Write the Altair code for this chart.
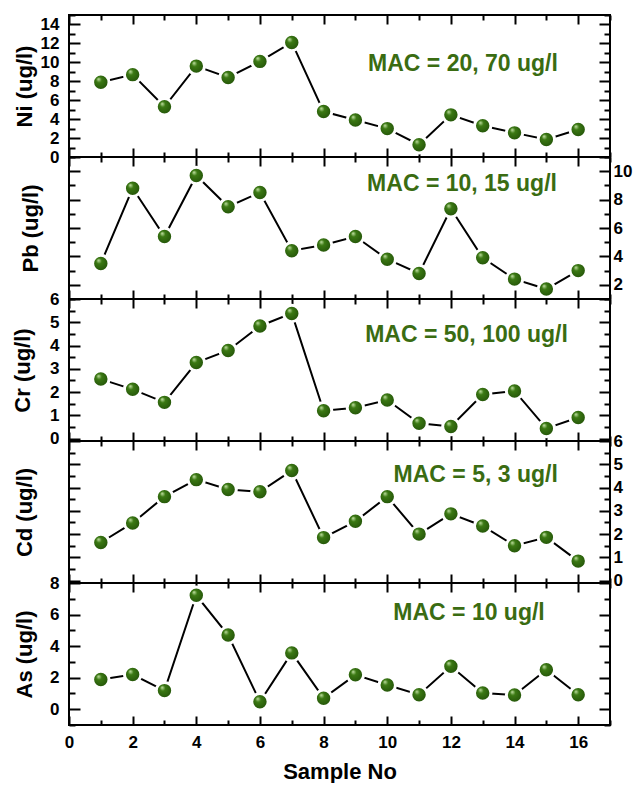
import altair as alt
import pandas as pd

# ---------------- data ----------------
samples = list(range(1, 17))
ni = [7.9, 8.7, 5.3, 9.6, 8.4, 10.1, 12.1, 4.8, 3.9, 3.0, 1.3, 4.45, 3.3, 2.55, 1.85, 2.9]
pb = [3.5, 8.8, 5.4, 9.7, 7.5, 8.5, 4.4, 4.8, 5.4, 3.8, 2.8, 7.35, 3.9, 2.4, 1.7, 3.0]
cr = [2.56, 2.12, 1.56, 3.27, 3.79, 4.84, 5.38, 1.2, 1.33, 1.66, 0.66, 0.52, 1.9, 2.05, 0.44, 0.91]
cd = [1.64, 2.48, 3.61, 4.34, 3.92, 3.82, 4.73, 1.85, 2.55, 3.61, 2.0, 2.87, 2.35, 1.5, 1.86, 0.84]
as_ = [1.88, 2.2, 1.18, 7.22, 4.7, 0.47, 3.57, 0.7, 2.18, 1.54, 0.92, 2.72, 1.03, 0.9, 2.5, 0.92]

x_ticks = list(range(0, 18))
x_labels = list(range(0, 17, 2))

ni_ticks = list(range(0, 16))
ni_labels = list(range(0, 15, 2))
pb_ticks = list(range(1, 12))
pb_labels = list(range(2, 11, 2))
cr_ticks = [i / 2 for i in range(0, 13)]
cr_labels = list(range(0, 7))
cd_ticks = [i / 2 for i in range(0, 13)]
cd_labels = list(range(0, 7))
as_ticks = list(range(-1, 9))
as_labels = list(range(0, 9, 2))

mac_texts = ["MAC = 20, 70 ug/l", "MAC = 10, 15 ug/l", "MAC = 50, 100 ug/l",
             "MAC = 5, 3 ug/l", "MAC = 10 ug/l"]
mac_x = [12.38, 12.35, 12.49, 12.78, 12.57]
mac_y = [9.8, 9.09, 4.46, 4.53, 6.07]

W, H = 541, 142
FONT = "Liberation Sans"
GREEN_TEXT = "#3a6c12"

grad = {
    "gradient": "radial",
    "x1": 0.35, "y1": 0.3, "r1": 0.0,
    "x2": 0.5, "y2": 0.5, "r2": 0.6,
    "stops": [
        {"offset": 0.0, "color": "#c8e6aa"},
        {"offset": 0.28, "color": "#3b7913"},
        {"offset": 1.0, "color": "#1d4906"},
    ],
}


def tick_size(test, major, minor):
    return {"condition": {"test": test, "value": major}, "value": minor}


def panel(vals, domain, tvals, ytest, lvals, side, title, title_x, idx, bottom):
    df = pd.DataFrame({"x": samples, "y": vals})
    ann = pd.DataFrame({"x": [mac_x[idx]], "y": [mac_y[idx]], "label": [mac_texts[idx]]})
    xs = alt.Scale(domain=[0, 17], nice=False, zero=False)
    ys = alt.Scale(domain=domain, nice=False, zero=False)

    common_tick = dict(labels=False, domain=False, ticks=True, tickWidth=2,
                       tickColor="black", title=None, grid=False)
    xt_bottom = alt.Axis(orient="top", offset=-H, values=x_ticks,
                         tickSize=tick_size("datum.value % 2 === 0", 9, 5), **common_tick)
    xt_top = alt.Axis(orient="bottom", offset=-H, values=x_ticks,
                      tickSize=tick_size("datum.value % 2 === 0", 9, 5), **common_tick)
    yt_left = alt.Axis(orient="right", offset=-W, values=tvals,
                       tickSize=tick_size(ytest, 11, 6), **common_tick)
    yt_right = alt.Axis(orient="left", offset=-W, values=tvals,
                        tickSize=tick_size(ytest, 11, 6), **common_tick)

    title_kw = dict(title=title, titleX=title_x, titleY=H / 2, titleAngle=270,
                    titleBaseline="bottom", titleAlign="center", titleFontSize=22,
                    titleFontWeight="bold", titleFont=FONT)

    if side == "left":
        ylab = alt.Axis(orient="left", values=lvals, ticks=False, domain=False,
                        labelPadding=10, labelFontSize=17, labelFontWeight="bold",
                        labelFont=FONT, labelOverlap=False, grid=False, **title_kw)
    else:
        ylab = alt.Axis(orient="right", values=lvals, ticks=False, domain=False,
                        labelPadding=3, labelFontSize=17, labelFontWeight="bold",
                        labelFont=FONT, labelOverlap=False, grid=False, title=None)

    if bottom:
        xlab = alt.Axis(orient="bottom", values=x_labels, ticks=False, domain=False,
                        labelPadding=9, labelFontSize=17, labelFontWeight="bold",
                        labelFont=FONT, labelFlush=False, labelOverlap=False, grid=False,
                        title="Sample No", titleFontSize=22, titleFontWeight="bold",
                        titleFont=FONT, titlePadding=11)
    else:
        xlab = None

    base = alt.Chart(df)
    line = base.mark_line(color="black", strokeWidth=2).encode(
        x=alt.X("x:Q", scale=xs, axis=xt_bottom),
        y=alt.Y("y:Q", scale=ys, axis=yt_left),
    )
    pts = base.mark_point(shape="circle", filled=True, size=270, fill=grad,
                          stroke="white", strokeWidth=3, opacity=1,
                          fillOpacity=1, strokeOpacity=1).encode(
        x=alt.X("x:Q", scale=xs, axis=xt_top),
        y=alt.Y("y:Q", scale=ys, axis=yt_right),
    )
    txt = alt.Chart(ann).mark_text(fontSize=23, fontWeight="bold", font=FONT,
                                   color=GREEN_TEXT, align="center",
                                   baseline="middle").encode(
        x=alt.X("x:Q", scale=xs, axis=xlab),
        y=alt.Y("y:Q", scale=ys, axis=ylab),
        text="label:N",
    )
    layers = [line, pts, txt]
    if side == "right":
        tax = alt.Axis(orient="left", labels=False, ticks=False, domain=False,
                       grid=False, **title_kw)
        inv = base.mark_point(opacity=0).encode(
            x=alt.X("x:Q", scale=xs, axis=None),
            y=alt.Y("y:Q", scale=ys, axis=tax),
        )
        layers.append(inv)
    return alt.layer(*layers).resolve_axis(x="independent", y="independent").properties(
        width=W, height=H)


p1 = panel(ni, [0, 15], ni_ticks, "datum.value % 2 === 0", ni_labels, "left",
           "Ni (ug/l)", -33, 0, False)
p2 = panel(pb, [1, 11], pb_ticks, "datum.value % 2 === 0", pb_labels, "right",
           "Pb (ug/l)", -27, 1, False)
p3 = panel(cr, [-0.1, 6], cr_ticks, "datum.value % 1 === 0", cr_labels, "left",
           "Cr (ug/l)", -35, 2, False)
p4 = panel(cd, [-0.1, 6], cd_ticks, "datum.value % 1 === 0", cd_labels, "right",
           "Cd (ug/l)", -33, 3, False)
p5 = panel(as_, [-1, 8], as_ticks, "datum.value % 2 === 0", as_labels, "left",
           "As (ug/l)", -33, 4, True)

chart = alt.vconcat(p1, p2, p3, p4, p5, spacing=0, bounds="flush").properties(
    padding={"left": 2, "top": 5, "right": 0, "bottom": 0}
).configure_view(
    stroke="black", strokeWidth=2
).configure_axis(labelColor="black", titleColor="black")

chart.save("out.html", embed_options={"renderer": "svg", "actions": False})
